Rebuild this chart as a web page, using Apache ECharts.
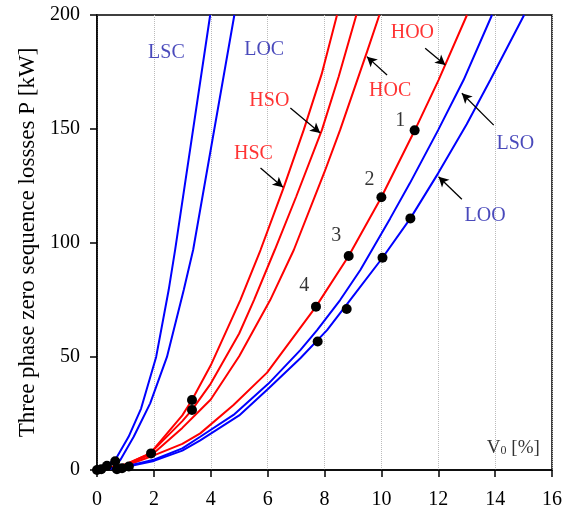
<!DOCTYPE html>
<html><head><meta charset="utf-8">
<script src="https://cdn.jsdelivr.net/npm/echarts@6/dist/echarts.min.js"></script>
<style>html,body{margin:0;padding:0;background:#fff}#c{width:570px;height:510px}</style>
</head><body><div id="c"></div>
<script>
// ---- curve data (V0 [%], P [kW]) ----
const lscX = [0, 0.64, 1.11, 1.55, 2.08, 2.52, 2.75, 3.98];
const lscY = [0, 4.4, 14.6, 27, 49.7, 79.1, 97, 200];
const locX = [0, 0.82, 1.29, 1.87, 2.46, 3.05, 3.38, 4.83];
const locY = [0, 4.4, 14.6, 29.3, 49.7, 79.1, 96.7, 200];
const hscX = [0, 1, 1.87, 3, 3.34, 4, 5.04, 5.75, 6.56, 7.27, 7.9, 8.44];
const hscY = [0, 2.5, 7.3, 24, 30.8, 46, 74.7, 96.7, 124, 149.5, 174, 200];
const hsoX = [0, 1, 1.87, 3, 3.34, 4, 5, 5.52, 6.25, 7, 7.91, 8.5, 9.12];
const hsoY = [0, 2.3, 7.3, 21.5, 26.4, 38, 60, 74.7, 96.7, 120, 149.5, 173, 200];
const hocX = [0, 1, 2, 3, 3.63, 4, 5, 6.09, 6.92, 8, 8.55, 9.5, 9.93];
const hocY = [0, 2, 7.5, 18.5, 26.4, 31, 50, 74.7, 96.7, 131, 149.5, 184, 200];
const hooX = [0, 1, 1.87, 3, 3.63, 4.8, 5.98, 7.03, 7.7, 8.85, 10, 11.17, 12.01, 13.01];
const hooY = [0, 1.8, 5.8, 11.5, 16.1, 28.6, 42.8, 60.5, 71.8, 94.1, 119.9, 149.2, 171.4, 200];
const lsoX = [0, 1, 2, 3, 3.63, 4.8, 6.04, 7.15, 7.74, 8.55, 9.26, 10.31, 11, 12, 12.89, 13.89];
const lsoY = [0, 1.5, 4.5, 9.5, 14.6, 24.2, 38.1, 52.7, 61.5, 74.7, 87.9, 110.6, 126, 149.5, 171.4, 200];
const looX = [0, 1, 2, 3, 3.63, 5, 6.04, 7.15, 8.09, 8.9, 10.04, 11.02, 12, 13, 13.83, 15.02];
const looY = [0, 1.3, 4, 8.5, 13, 24, 35.9, 49.1, 61.5, 74.7, 93.3, 110.6, 130.5, 152, 171.4, 200];

// ---- measured points ----
const dotsX = [0, 0.15, 0.35, 0.64, 0.7, 0.88, 1.12, 1.9, 3.34, 3.34, 7.7, 8.85, 10.0, 11.17, 7.76, 8.78, 10.04, 11.02];
const dotsY = [0, 0.3, 1.9, 3.8, 0.3, 0.8, 1.5, 7.3, 30.8, 26.4, 71.8, 94.1, 119.9, 149.3, 56.5, 70.8, 93.3, 110.6];

// ---- annotations ----
const labelText = ['LSC', 'LOC', 'HSO', 'HSC', 'HOC', 'HOO', 'LSO', 'LOO', '1', '2', '3', '4'];
const labelX = [2.44, 5.88, 6.06, 5.5, 10.31, 11.09, 14.71, 13.65, 10.66, 9.58, 8.41, 7.29];
const labelY = [183.3, 184.6, 162.2, 138.9, 166.6, 192.1, 143.3, 111.6, 153.4, 127.5, 102.9, 80.9];
const labelKind = ['L', 'L', 'H', 'H', 'H', 'H', 'L', 'L', 'N', 'N', 'N', 'N'];
// arrows: tail x, tail y, head x, head y
const arrowTailX = [5.75, 6.8, 10.2, 11.54, 13.95, 12.83];
const arrowTailY = [132.7, 159.1, 173.6, 185.4, 151.6, 119];
const arrowHeadX = [6.54, 7.85, 9.49, 12.25, 12.83, 12.01];
const arrowHeadY = [124.3, 148.1, 181.7, 178, 165.6, 128.9];
const axisLabelX = 14.64, axisLabelY = 10.1;

const FONT = 'Liberation Serif';
const BLUE = '#0000ff', RED = '#ff0000';
const zip = (xs, ys) => xs.map((x, i) => [x, ys[i]]);
function curve(name, xs, ys, color) {
  return { name, type: 'line', data: zip(xs, ys), showSymbol: false, symbol: 'none',
    lineStyle: { color, width: 2 }, z: 2, clip: true };
}
const kindColor = { L: '#1c1caa', H: RED, N: '#000' };

const chart = echarts.init(document.getElementById('c'), null, { renderer: 'canvas' });
chart.setOption({
  animation: false,
  backgroundColor: '#fff',
  grid: { left: 97, right: 18, top: 15, bottom: 40, show: true, borderColor: '#000', borderWidth: 1.5, backgroundColor: 'transparent' },
  xAxis: {
    type: 'value', min: 0, max: 16, interval: 2,
    axisLine: { lineStyle: { color: '#000', width: 1.5 } },
    axisTick: { inside: false, length: 7, lineStyle: { color: '#000', width: 1.5 } },
    axisLabel: { fontFamily: FONT, fontSize: 20, color: '#000', margin: 20 },
    splitLine: { show: true, lineStyle: { type: 'dotted', color: '#bbbbbb', width: 1 } }
  },
  yAxis: {
    type: 'value', min: 0, max: 200, interval: 50,
    name: 'Three phase zero sequence lossses P [kW]', nameLocation: 'middle', nameGap: 58,
    nameTextStyle: { fontFamily: FONT, fontSize: 23, color: '#000' },
    axisLine: { lineStyle: { color: '#000', width: 1.5 } },
    axisTick: { inside: false, length: 7, lineStyle: { color: '#000', width: 1.5 } },
    axisLabel: { fontFamily: FONT, fontSize: 20, color: '#000', margin: 17 },
    splitLine: { show: false }
  },
  series: [
    curve('LSC', lscX, lscY, BLUE),
    curve('LOC', locX, locY, BLUE),
    curve('HSC', hscX, hscY, RED),
    curve('HSO', hsoX, hsoY, RED),
    curve('HOC', hocX, hocY, RED),
    curve('HOO', hooX, hooY, RED),
    curve('LSO', lsoX, lsoY, BLUE),
    curve('LOO', looX, looY, BLUE),
    { name: 'measured', type: 'scatter', data: zip(dotsX, dotsY), symbol: 'circle', symbolSize: 10,
      itemStyle: { color: '#000', opacity: 1 }, z: 5 },
    { name: 'labels', type: 'scatter', symbolSize: 0, z: 6, silent: true,
      data: labelText.map((t, i) => ({ value: [labelX[i], labelY[i]], name: t,
        label: { show: true, position: 'inside', formatter: t, fontFamily: FONT, fontSize: 20, color: kindColor[labelKind[i]] } }))
        .concat([{ value: [axisLabelX, axisLabelY], name: 'V0',
          label: { show: true, position: 'inside', formatter: '{m|V}{s|0}{m| [%]}',
            rich: { m: { fontFamily: FONT, fontSize: 19, color: '#000', lineHeight: 20, verticalAlign: 'bottom' },
                    s: { fontFamily: FONT, fontSize: 12, color: '#000', lineHeight: 12, verticalAlign: 'bottom' } } } }]),
      markLine: {
        silent: true, symbol: ['none', 'arrow'], symbolSize: [8, 10],
        lineStyle: { color: '#000', width: 1.3, type: 'solid' }, label: { show: false },
        data: arrowTailX.map((x, i) => [{ coord: [x, arrowTailY[i]] }, { coord: [arrowHeadX[i], arrowHeadY[i]] }])
      }
    }
  ]
});
</script></body></html>
